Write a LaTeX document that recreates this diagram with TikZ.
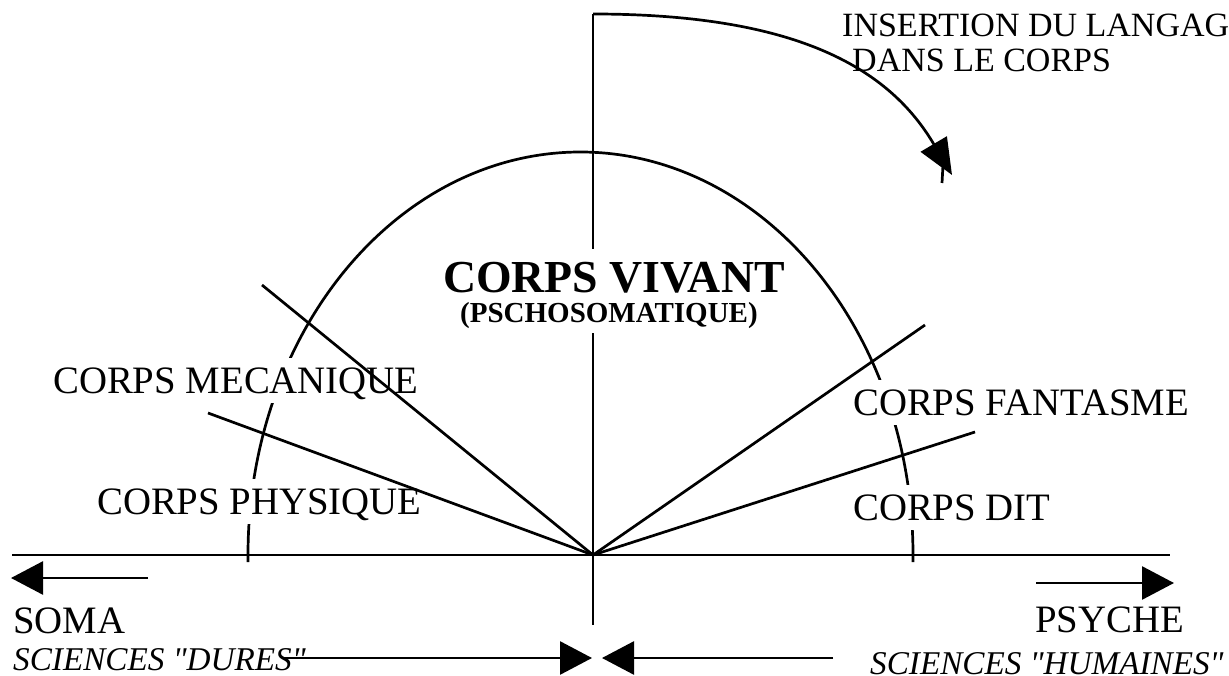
\documentclass[tikz,border=0pt]{standalone}
\usepackage{fontspec}
\setmainfont{Liberation Serif}[Ligatures=TeXOff]
\usetikzlibrary{arrows.meta}
\begin{document}
\begin{tikzpicture}[x=1pt,y=-1pt,
  stroke/.style={line width=2.7pt},
  lbl/.style={anchor=base west, inner sep=0pt, font=\fontsize{38.8}{40}\selectfont},
  masked/.style={lbl, fill=white, inner ysep=10pt, text height=25pt, text depth=0pt},
  bighead/.style={-{Triangle[length=32pt,width=33pt]}},
]
\useasboundingbox (0,0) rectangle (1229,676);
\clip (0,0) rectangle (1229,676);

% key points
\coordinate (O) at (593,555);
\coordinate (vtop) at (593,14);
\coordinate (vbot) at (593,625);
\coordinate (hl) at (12,555);
\coordinate (hr) at (1170,555);
\coordinate (domeL) at (248.05,562.03);
\coordinate (rMec) at (262,285);
\coordinate (rPhy) at (208,413);
\coordinate (rFan) at (925,325);
\coordinate (rDit) at (975,432);
\coordinate (insTip) at (952,175);
\coordinate (stubA) at (943,165);
\coordinate (stubB) at (942,183);
\coordinate (somaS) at (148,578);
\coordinate (somaE) at (11,578);
\coordinate (psyS) at (1036,583);
\coordinate (psyE) at (1174,583);
\coordinate (durS) at (282,658);
\coordinate (durE) at (592,658);
\coordinate (humS) at (833,658);
\coordinate (humE) at (602,658);

% axes, dome and the bent arrow at the top
\draw[stroke] (vtop) -- (vbot);
\draw[stroke] (hl) -- (hr);
\draw[stroke] (domeL) arc[start angle=181, end angle=-1, x radius=332.5pt, y radius=403pt];
\draw[stroke, -{Triangle[length=36pt,width=30pt]}] (vtop) .. controls (800,14) and (890,70) .. (insTip);
\draw[stroke] (stubA) -- (stubB);

% labels that interrupt the lines behind them
\node[masked] (mec) at (53,393) {CORPS MECANIQUE};
\node[masked] (phy) at (97,514) {CORPS PHYSIQUE};
\node[masked] (fan) at (853,415) {CORPS FANTASME};
\node[masked] (dit) at (853,520) {CORPS DIT};
\node[lbl, fill=white, inner ysep=14pt, font=\bfseries\fontsize{45.8}{48}\selectfont] (viv) at (443,293) {CORPS VIVANT};
\node[lbl, fill=white, inner ysep=4pt, font=\bfseries\fontsize{29}{31}\selectfont] (psycho) at (460,323) {(PSCHOSOMATIQUE)};

% rays from the origin
\draw[stroke] (O) -- (rMec);
\draw[stroke] (O) -- (rPhy);
\draw[stroke] (O) -- (rFan);
\draw[stroke] (O) -- (rDit);

% bottom labels
\node[lbl] (soma) at (13,633) {SOMA};
\node[lbl] (psyche) at (1035,632) {PSYCHE};
\node[lbl, font=\itshape\fontsize{33.2}{35}\selectfont] (dures) at (13,670) {SCIENCES "DURES"};
\node[lbl, font=\itshape\fontsize{33.2}{35}\selectfont] (hum) at (870,674) {SCIENCES "HUMAINES"};
\node[lbl, font=\fontsize{34}{36}\selectfont] (ins1) at (842,37) {INSERTION DU LANGAGE};
\node[lbl, font=\fontsize{34}{36}\selectfont] (ins2) at (852,72) {DANS LE CORPS};

% direction arrows
\draw[stroke, bighead] (somaS) -- (somaE);
\draw[stroke, bighead] (psyS) -- (psyE);
\draw[stroke, bighead] (durS) -- (durE);
\draw[stroke, bighead] (humS) -- (humE);
\end{tikzpicture}
\end{document}
